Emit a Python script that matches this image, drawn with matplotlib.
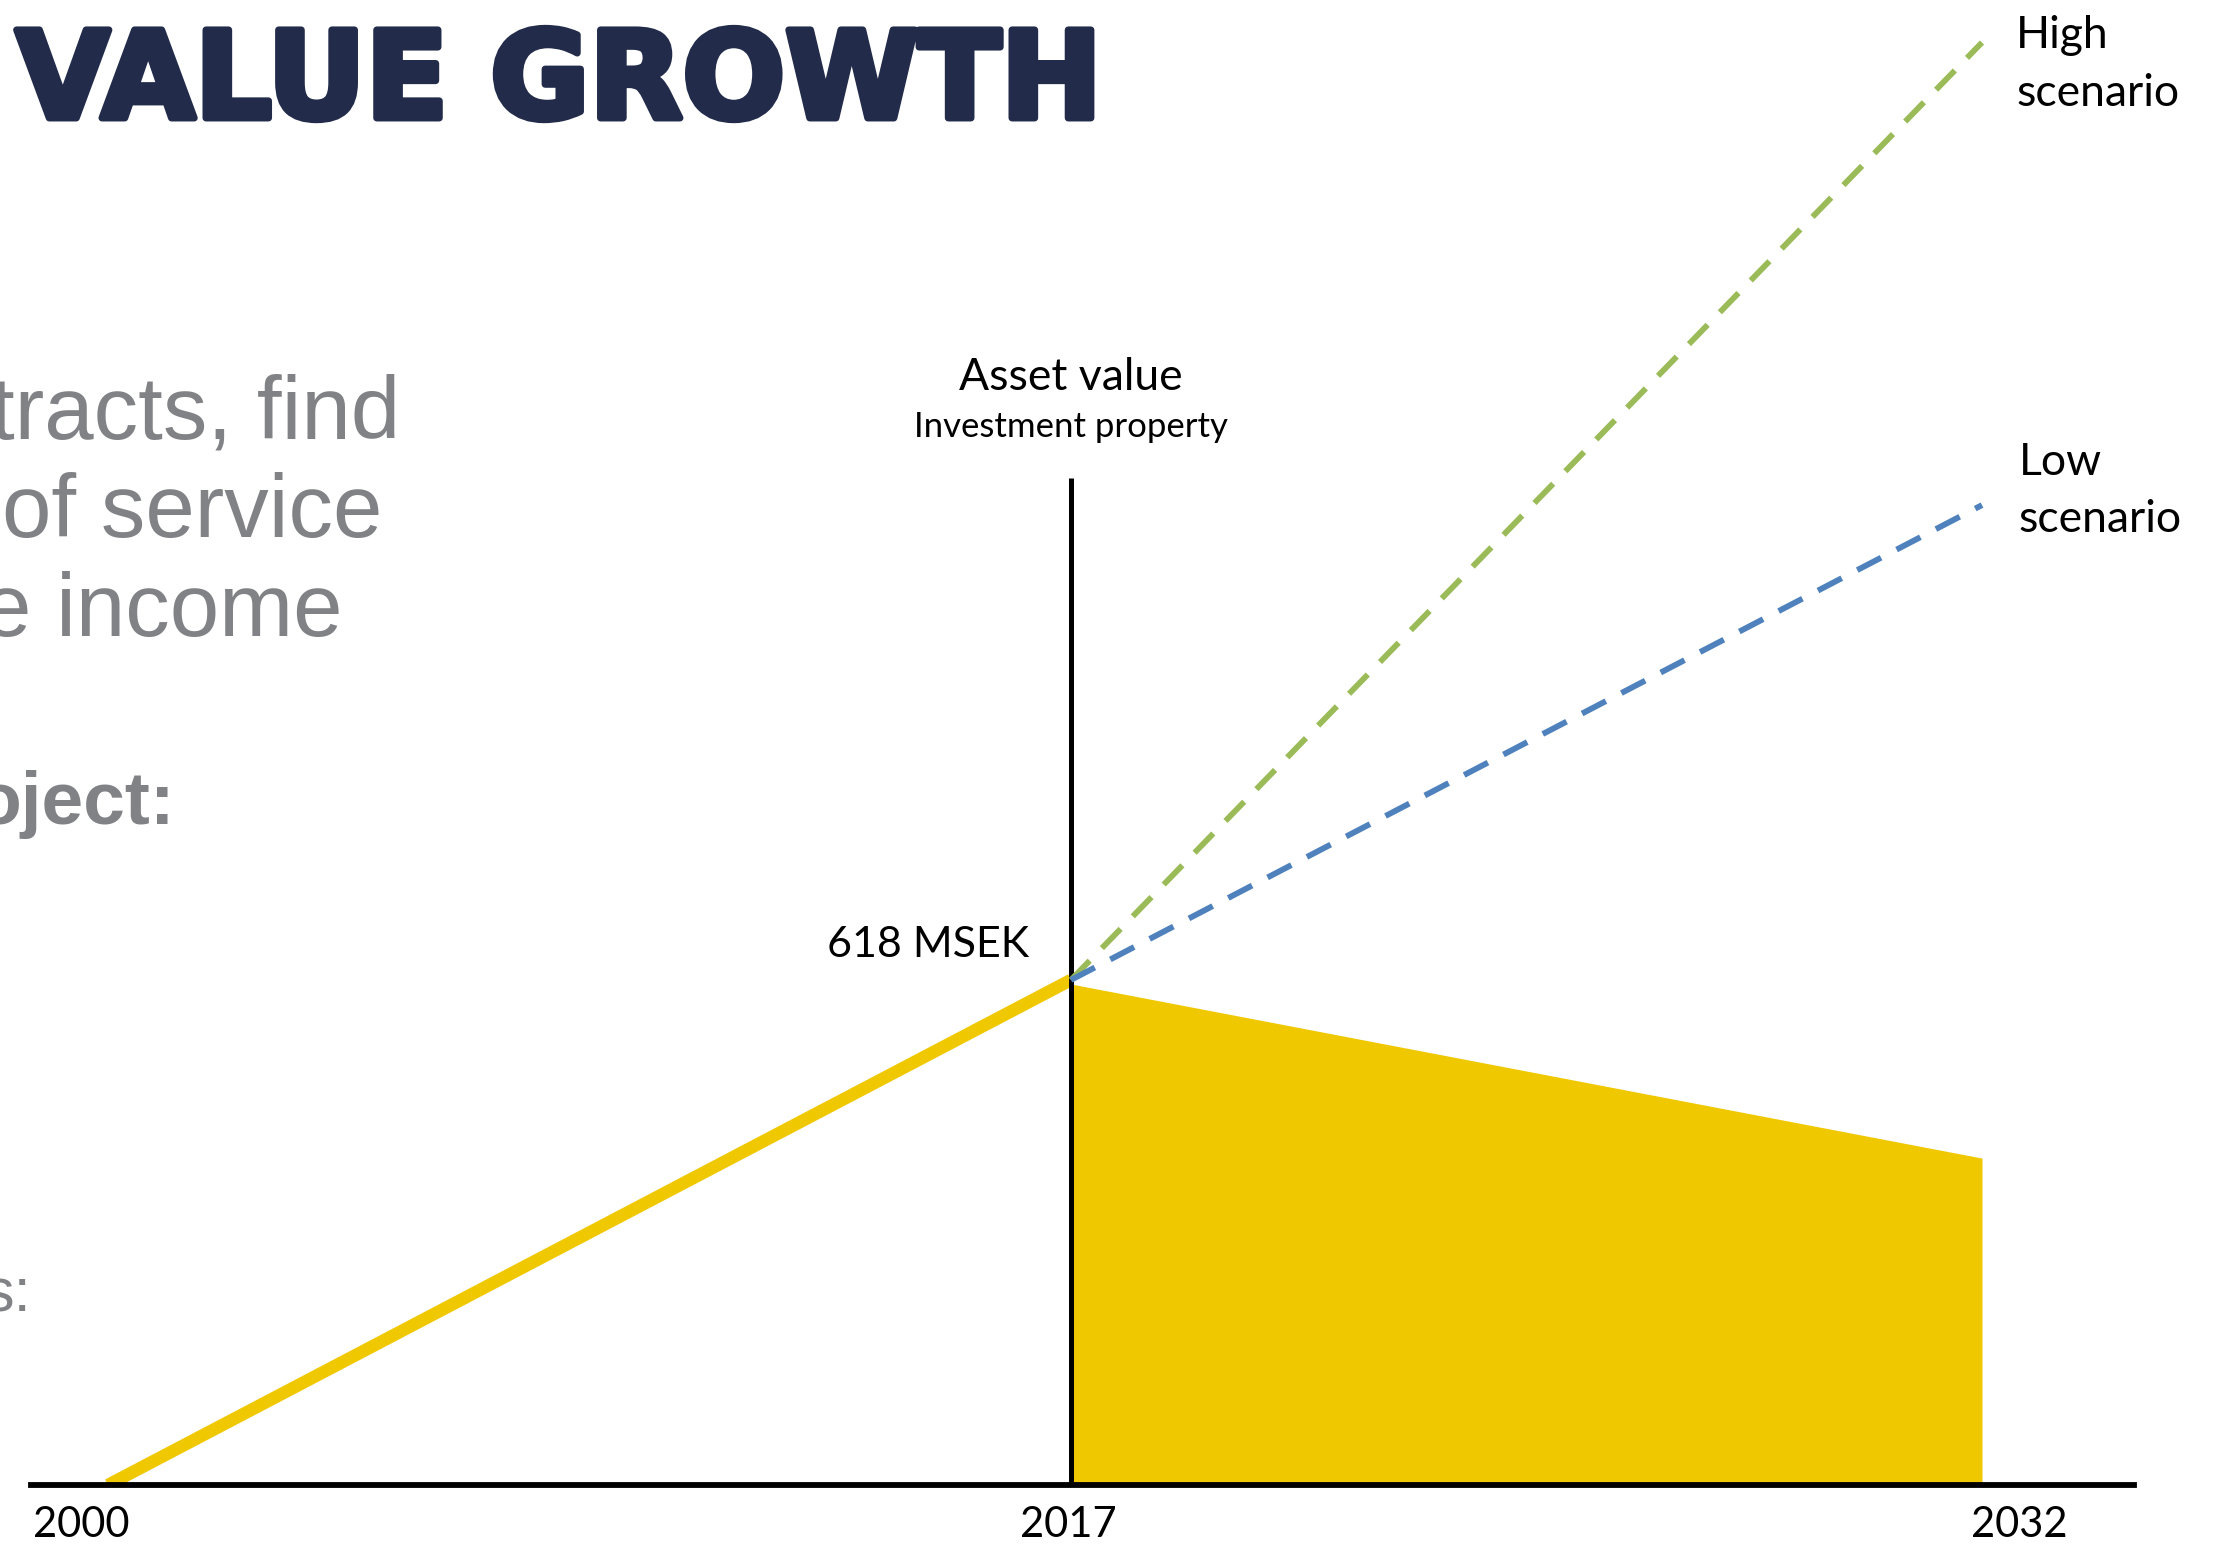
import numpy as np
import matplotlib.pyplot as plt
import matplotlib.patheffects as pe
from matplotlib.ticker import NullLocator

# values (MSEK)
hist_years = [2000, 2017]
hist_values = [0, 618]
proj_years = [2017, 2032]
high_values = [618, 1765]
low_values = [618, 1199]
fill_values = [613, 400]
marker_year = 2017
marker_top = 1232
tick_years = [2000, 2017, 2032]
tick_labels = ['2000', '2017', '2032']

W, H = 2217, 1544
YELLOW = '#F0C800'
GREEN = '#9BBB59'
BLUE = '#4F81BD'
GRAY = '#808285'
NAVY = '#222B4A'
LABEL_FONT = ['Lato', 'DejaVu Sans']


def fx(px):
    return px / W


def fy(py):
    return 1 - py / H


fig = plt.figure(figsize=(W / 100, H / 100), dpi=100)
ax = fig.add_axes([fx(31), fy(1485), fx(2134) - fx(31), fy(0) - fy(1485)])

# the time axis of the original drawing is not uniform, so use a piecewise scale
yr_knots = [1990, 2000, 2017, 2032, 2040]
px_knots = [108 - 10 * 56.65, 108, 1071, 1982, 1982 + 8 * 60.73]


def fwd(x):
    return np.interp(x, yr_knots, px_knots)


def inv(p):
    return np.interp(p, px_knots, yr_knots)


ax.set_xscale('function', functions=(fwd, inv))
ax.set_xlim(inv(31), inv(2134))
ax.set_ylim(0, 1817)

ax.fill_between(proj_years, fill_values, 0, color=YELLOW, lw=0, zorder=1)
ax.plot(hist_years, hist_values, color=YELLOW, lw=9, solid_capstyle='butt', zorder=2)
ax.vlines(marker_year, 0, marker_top, color='black', lw=3.6, zorder=3)
ax.plot(proj_years, high_values, color=GREEN, lw=4.2, dashes=(4.6, 3.0), zorder=4)
ax.plot(proj_years, low_values, color=BLUE, lw=4.2, dashes=(4.6, 3.0), zorder=4)

for s in ['top', 'left', 'right']:
    ax.spines[s].set_visible(False)
ax.spines['bottom'].set_linewidth(4.2)
ax.spines['bottom'].set_color('black')
ax.spines['bottom'].set_zorder(5)
ax.set_yticks([])
ax.set_xticks(tick_years)
ax.set_xticklabels([])
ax.xaxis.set_minor_locator(NullLocator())
ax.tick_params(axis='x', length=0)
ax.patch.set_alpha(0)

# year labels sit a little off their marks in the original
label_shift = [-19, -2, 27]
for yr, lab, dx in zip(tick_years, tick_labels, label_shift):
    ax.annotate(lab, xy=(yr, 0), xycoords=('data', 'axes fraction'),
                xytext=(dx, -29), textcoords='offset points', ha='center',
                va='center', fontsize=30, family=LABEL_FONT, annotation_clip=False)

ax.text(marker_year, 1355, 'Asset value', ha='center', va='center',
        fontsize=32, family=LABEL_FONT)
ax.text(marker_year, 1294, 'Investment property', ha='center', va='center',
        fontsize=25, family=LABEL_FONT)
ax.annotate('618 MSEK', xy=(marker_year, hist_values[-1]), xytext=(-30, 25),
            textcoords='offset points', ha='right', va='center',
            fontsize=31, family=LABEL_FONT)
ax.annotate('High\nscenario', xy=(proj_years[-1], high_values[-1]), xytext=(24.5, -16),
            textcoords='offset points', ha='left', va='center', linespacing=1.5,
            fontsize=32, family=LABEL_FONT, annotation_clip=False)
ax.annotate('Low\nscenario', xy=(proj_years[-1], low_values[-1]), xytext=(26.5, 10),
            textcoords='offset points', ha='left', va='center', linespacing=1.5,
            fontsize=32, family=LABEL_FONT, annotation_clip=False)

# slide title and the cut-off body text on the left
fig.text(fx(16), fy(118), 'VALUE GROWTH', fontsize=87, fontweight='bold',
         color=NAVY, va='baseline', family='DejaVu Sans',
         path_effects=[pe.withStroke(linewidth=5, foreground=NAVY)])
body = [
    ('tracts, find', 400, 438, 64, 'normal'),
    ('of service', 382, 537, 64, 'normal'),
    ('e income', 342, 636, 64, 'normal'),
    ('oject:', 175, 824, 54, 'bold'),
    ('s:', 31, 1312, 44, 'normal'),
]
for txt, x, y, size, weight in body:
    fig.text(fx(x), fy(y), txt, ha='right', va='baseline', fontsize=size,
             fontweight=weight, color=GRAY, family=['Liberation Sans', 'DejaVu Sans'])

fig.savefig('out.png', dpi=100)
